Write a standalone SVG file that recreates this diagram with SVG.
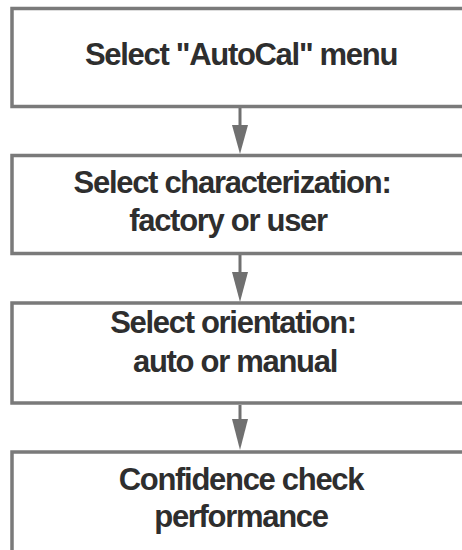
<svg xmlns="http://www.w3.org/2000/svg" width="462" height="550" viewBox="0 0 462 550">
<style>
.box{fill:#fff;stroke:#7a7a7a;stroke-width:3.5}
.t{font-family:"Liberation Sans",Arial,sans-serif;font-size:31px;font-weight:bold;fill:#2e2e2e;text-anchor:middle;letter-spacing:-1.3px}
.c{stroke:#707070;stroke-width:3;fill:none}
.h{fill:#707070}
</style>
<rect width="462" height="550" fill="#fff"/>
<g id="connectors">
<line class="c" x1="240" y1="108" x2="240" y2="130"/><polygon class="h" points="232,125 248,125 240,154"/>
<line class="c" x1="240" y1="255" x2="240" y2="277"/><polygon class="h" points="232,272 248,272 240,302"/>
<line class="c" x1="240" y1="405" x2="240" y2="424"/><polygon class="h" points="232,419 248,419 240,450"/>
</g>
<g id="n1"><rect class="box" x="12" y="8.5" width="460" height="98"/><text class="t" x="241" y="65">Select "AutoCal" menu</text></g>
<g id="n2"><rect class="box" x="12" y="155.5" width="460" height="98"/><text class="t" x="232" y="193">Select characterization:</text><text class="t" x="228" y="231">factory or user</text></g>
<g id="n3"><rect class="box" x="12" y="303" width="460" height="100"/><text class="t" x="233" y="333">Select orientation:</text><text class="t" x="235" y="372">auto or manual</text></g>
<g id="n4"><rect class="box" x="12" y="452" width="460" height="110"/><text class="t" x="241" y="490">Confidence check</text><text class="t" x="241" y="527">performance</text></g>
</svg>
